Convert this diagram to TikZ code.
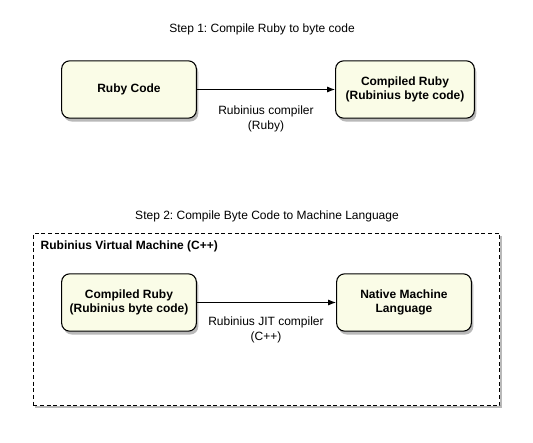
\documentclass[tikz,border=0pt]{standalone}
\usepackage{fontspec}
\setmainfont{Liberation Sans}
\usepackage{xcolor}
\usetikzlibrary{arrows.meta, positioning, shadows}
\definecolor{stagefill}{RGB}{250,252,231}
\frenchspacing
\tikzset{
  stage/.style={rectangle, draw=black, line width=0.8pt, rounded corners=6pt, fill=stagefill,
    minimum width=101pt, minimum height=43pt, align=center, font=\fontsize{9}{11}\selectfont\bfseries,
    drop shadow={shadow xshift=1.5pt, shadow yshift=-2.5pt, opacity=0.55}},
  vmbox/.style={rectangle, draw=black, line width=0.7pt, dash pattern=on 3pt off 2pt, fill=white,
    minimum width=350pt, minimum height=129pt,
    drop shadow={shadow xshift=1.5pt, shadow yshift=-2pt, opacity=0.55}},
  steptitle/.style={font=\fontsize{9}{11}\selectfont},
  edgelabel/.style={align=center, font=\fontsize{9}{11}\selectfont},
  arrowline/.style={-{Latex[length=6pt, width=4.5pt]}, line width=0.7pt}
}

\begin{document}
\begin{tikzpicture}[x=0.75pt, y=-0.75pt]
  \useasboundingbox[fill=white] (0,0) rectangle (533,443);

  % step 1
  \node[steptitle] (title1) at (262,29) {Step 1: Compile Ruby to byte code};
  \node[stage] (rubycode) at (129,89.5) {Ruby Code};
  \node[stage, minimum width=104pt] (bytecode) at (405,89.5) {Compiled Ruby\\(Rubinius byte code)};
  \draw[arrowline] (rubycode) -- (bytecode);
  \node[edgelabel] (rbc) at (266,119) {Rubinius compiler\\(Ruby)};

  % step 2
  \node[steptitle] (title2) at (267,216) {Step 2: Compile Byte Code to Machine Language};
  \node[vmbox] (vm) at (266.5,319.5) {};
  \node[font=\fontsize{9}{11}\selectfont\bfseries, anchor=west] (vmlabel) at (36,246) {Rubinius Virtual Machine (C++)};
  \node[stage] (bytecode2) at (129,302.5) {Compiled Ruby\\(Rubinius byte code)};
  \node[stage] (native) at (404,302.5) {Native Machine\\Language};
  \draw[arrowline] (bytecode2) -- (native);
  \node[edgelabel] (jit) at (266,330) {Rubinius JIT compiler\\(C++)};
\end{tikzpicture}
\end{document}
